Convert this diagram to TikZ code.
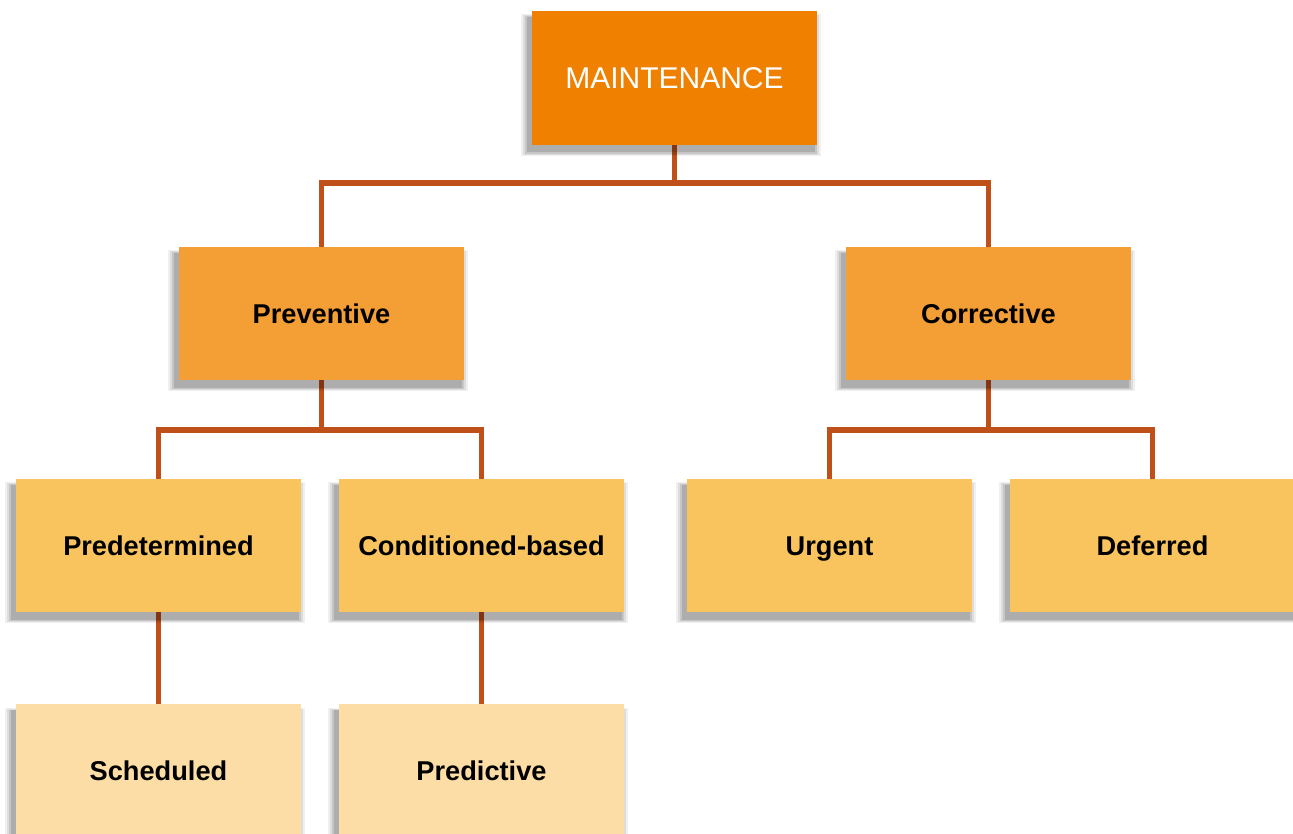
\documentclass[tikz,border=0pt]{standalone}
\usepackage{fontspec}
\setmainfont{Liberation Sans}
\usetikzlibrary{shadows}
\definecolor{cTop}{HTML}{EF8000}
\definecolor{cMid}{HTML}{F39F36}
\definecolor{cLow}{HTML}{F9C45E}
\definecolor{cLeaf}{HTML}{FCDDA6}
\definecolor{cLine}{HTML}{C0501A}
\tikzset{
  box/.style={rectangle, minimum width=213.75pt, minimum height=100pt, inner sep=0pt,
    text height=14.6pt, text depth=0pt,
    general shadow={fill=black, opacity=0.06, shadow xshift=-2.5pt, shadow yshift=-5pt, shadow scale=1.055},
    general shadow={fill=black, opacity=0.08, shadow xshift=-2.5pt, shadow yshift=-5pt, shadow scale=1.04},
    general shadow={fill=black, opacity=0.10, shadow xshift=-2.5pt, shadow yshift=-5pt, shadow scale=1.025},
    general shadow={fill=black, opacity=0.12, shadow xshift=-2.5pt, shadow yshift=-5pt, shadow scale=1.01}},
  lbl/.style={font=\fontsize{20.4}{24}\selectfont\bfseries, text=black},
  conn/.style={draw=cLine, line width=3.9pt, line join=miter}
}
\begin{document}
\begin{tikzpicture}[x=0.75pt,y=-0.75pt]
\useasboundingbox[fill=white] (0,0) rectangle (1293,834);
% junction coordinates
\coordinate (b1) at (674.5,183);
\coordinate (b2) at (321.5,430);
\coordinate (b3) at (988.5,430);
% node positions (boxes drawn after connectors)
\path (674.5,78) coordinate (pM)
      (321.5,313.5) coordinate (pPrev)
      (988.5,313.5) coordinate (pCorr)
      (158.5,545.5) coordinate (pPred)
      (481.5,545.5) coordinate (pCond)
      (829.5,545.5) coordinate (pUrg)
      (1152.5,545.5) coordinate (pDef)
      (158.5,771) coordinate (pSch)
      (481.5,771) coordinate (pPdc);
% connectors
\draw[conn] (pM) -- (b1) -| (pPrev);
\draw[conn] (b1) -| (pCorr);
\draw[conn] (pPrev) -- (b2) -| (pPred);
\draw[conn] (b2) -| (pCond);
\draw[conn] (pCorr) -- (b3) -| (pUrg);
\draw[conn] (b3) -| (pDef);
\draw[conn] (pPred) -- (pSch);
\draw[conn] (pCond) -- (pPdc);
% boxes
\node[box, fill=cTop, minimum height=100.5pt, text=white, text height=16.1pt, font=\fontsize{22.5}{26}\selectfont] (M) at (pM) {MAINTENANCE};
\node[box, fill=cMid, lbl] (Prev) at (pPrev) {Preventive};
\node[box, fill=cMid, lbl] (Corr) at (pCorr) {Corrective};
\node[box, fill=cLow, lbl] (Pred) at (pPred) {Predetermined};
\node[box, fill=cLow, lbl] (Cond) at (pCond) {Conditioned-based};
\node[box, fill=cLow, lbl] (Urg) at (pUrg) {Urgent};
\node[box, fill=cLow, lbl] (Def) at (pDef) {Deferred};
\node[box, fill=cLeaf, lbl] (Sch) at (pSch) {Scheduled};
\node[box, fill=cLeaf, lbl] (Pdc) at (pPdc) {Predictive};
\end{tikzpicture}
\end{document}
